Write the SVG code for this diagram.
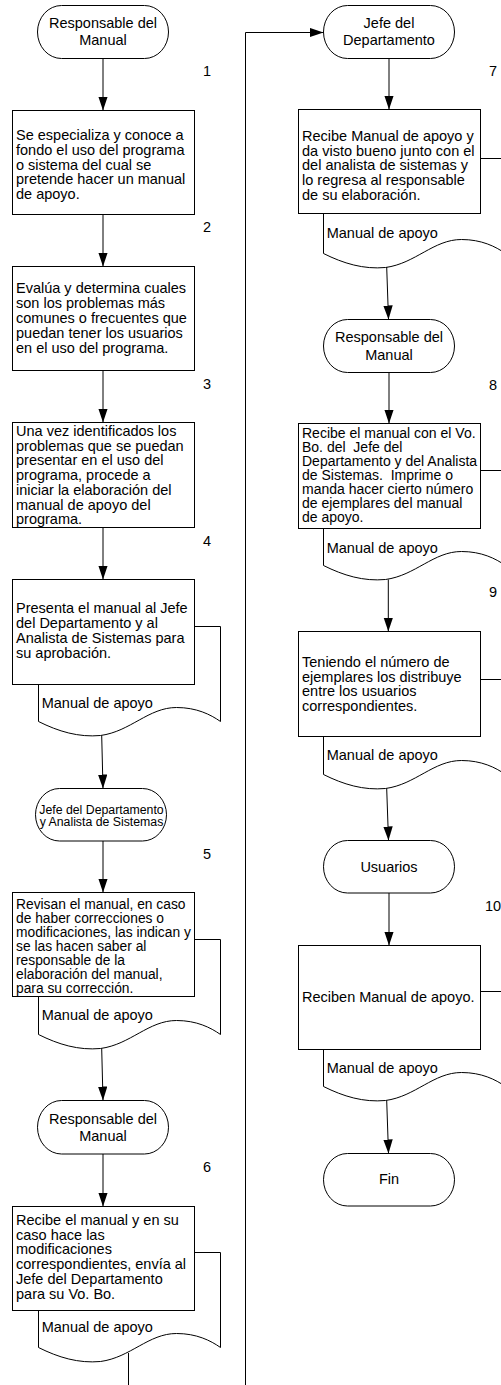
<svg xmlns="http://www.w3.org/2000/svg" xmlns:xlink="http://www.w3.org/1999/xlink" width="501" height="1385" viewBox="0 0 501 1385">
  <style>
    .box { fill: #ffffff; stroke: #000000; stroke-width: 1; }
    .doc { fill: #ffffff; stroke: #000000; stroke-width: 1; }
    .term { fill: #ffffff; stroke: #000000; stroke-width: 1; }
    .conn { fill: none; stroke: #000000; stroke-width: 1; marker-end: url(#arrow); }
    .conn-plain { fill: none; stroke: #000000; stroke-width: 1; }
    text { font-family: "Liberation Sans", Arial, sans-serif; font-size: 14.5px; fill: #000000; }
    .c { text-anchor: middle; }
    .small { font-size: 12.3px; }
    .dense { font-size: 13.8px; }
    .mid { font-size: 14px; }
  </style>
  <defs>
    <marker id="arrow" markerUnits="userSpaceOnUse" markerWidth="14" markerHeight="10" refX="14" refY="4.7" orient="auto">
      <path d="M0,0 L14,4.7 L0,9.4 Z" fill="#000000"/>
    </marker>
    <!-- document sheet with wavy lower edge, 182 wide -->
    <path id="docShape" d="M0,0 H182 V95 C172,88 158,81 138,81 C110,81 92,105 62,109 C40,111 20,105 0,95 Z"/>
  </defs>
  <rect x="0" y="0" width="501" height="1385" fill="#ffffff"/>

  <!-- left column -->
  <g id="start-responsable">
    <rect class="term" x="37.5" y="5.5" width="131" height="53" rx="24" ry="26.5"/>
    <text class="c" x="103" y="27.8">Responsable del</text>
    <text class="c" x="103" y="45.2">Manual</text>
  </g>
  <g id="step1">
    <text class="c" x="207" y="76.2">1</text>
    <rect class="box" x="12.5" y="110.5" width="182" height="104"/>
    <text x="16" y="140">Se especializa y conoce a</text>
    <text x="16" y="154.8">fondo el uso del programa</text>
    <text x="16" y="169.6">o sistema del cual se</text>
    <text x="16" y="184.4">pretende hacer un manual</text>
    <text x="16" y="199.2">de apoyo.</text>
  </g>
  <g id="step2">
    <text class="c" x="207" y="232.2">2</text>
    <rect class="box" x="12.5" y="266.5" width="182" height="104"/>
    <text x="16" y="293.3">Evalúa y determina cuales</text>
    <text x="16" y="308.1">son los problemas más</text>
    <text x="16" y="322.9">comunes o frecuentes que</text>
    <text x="16" y="337.7">puedan tener los usuarios</text>
    <text x="16" y="352.5">en el uso del programa.</text>
  </g>
  <g id="step3">
    <text class="c" x="207" y="389.2">3</text>
    <rect class="box" x="12.5" y="422.5" width="182" height="105"/>
    <text x="16" y="435.7">Una vez identificados los</text>
    <text x="16" y="450.5">problemas que se puedan</text>
    <text x="16" y="465.2">presentar en el uso del</text>
    <text x="16" y="480">programa, procede a</text>
    <text x="16" y="494.8">iniciar la elaboración del</text>
    <text x="16" y="509.6">manual de apoyo del</text>
    <text x="16" y="524.3">programa.</text>
  </g>
  <g id="step4">
    <text class="c" x="207" y="546.2">4</text>
    <use href="#docShape" xlink:href="#docShape" class="doc" x="38.5" y="626.5"/>
    <rect class="box" x="12.5" y="579.5" width="182" height="105"/>
    <text x="16" y="613.3">Presenta el manual al Jefe</text>
    <text x="16" y="628.1">del Departamento y al</text>
    <text x="16" y="642.9">Analista de Sistemas para</text>
    <text x="16" y="657.7">su aprobación.</text>
    <text x="41.7" y="707.7">Manual de apoyo</text>
  </g>
  <g id="actor-jefe-analista">
    <rect class="term" x="35.5" y="788.5" width="131" height="52.5" rx="24" ry="26.25"/>
    <text class="c small" x="101.5" y="813.7">Jefe del Departamento</text>
    <text class="c small" x="101.5" y="826.1">y Analista de Sistemas</text>
  </g>
  <g id="step5">
    <text class="c" x="207" y="859.2">5</text>
    <use href="#docShape" xlink:href="#docShape" class="doc" x="38.5" y="939.5"/>
    <rect class="box" x="12.5" y="892.5" width="182" height="104"/>
    <text class="dense" x="16" y="908.5">Revisan el manual, en caso</text>
    <text class="dense" x="16" y="922.5">de haber correcciones o</text>
    <text class="dense" x="16" y="936.5">modificaciones, las indican y</text>
    <text class="dense" x="16" y="950.5">se las hacen saber al</text>
    <text class="dense" x="16" y="964.5">responsable de la</text>
    <text class="dense" x="16" y="978.5">elaboración del manual,</text>
    <text class="dense" x="16" y="992.5">para su corrección.</text>
    <text x="41.7" y="1020">Manual de apoyo</text>
  </g>
  <g id="actor-responsable-2">
    <rect class="term" x="37.5" y="1100.5" width="131" height="53.5" rx="24" ry="26.75"/>
    <text class="c" x="103" y="1123.6">Responsable del</text>
    <text class="c" x="103" y="1141">Manual</text>
  </g>
  <g id="step6">
    <text class="c" x="207" y="1171.9">6</text>
    <use href="#docShape" xlink:href="#docShape" class="doc" x="38.5" y="1252.5"/>
    <rect class="box" x="12.5" y="1206.5" width="182" height="104"/>
    <text x="16" y="1225">Recibe el manual y en su</text>
    <text x="16" y="1239.7">caso hace las</text>
    <text x="16" y="1254.4">modificaciones</text>
    <text x="16" y="1269.1">correspondientes, envía al</text>
    <text x="16" y="1283.8">Jefe del Departamento</text>
    <text x="16" y="1298.5">para su Vo. Bo.</text>
    <text x="41.7" y="1331.7">Manual de apoyo</text>
  </g>

  <!-- right column -->
  <g id="actor-jefe">
    <rect class="term" x="323.5" y="5.5" width="131" height="53" rx="24" ry="26.5"/>
    <text class="c" x="389" y="27.8">Jefe del</text>
    <text class="c" x="389" y="45.2">Departamento</text>
  </g>
  <g id="step7">
    <text class="c" x="493" y="75.9">7</text>
    <use href="#docShape" xlink:href="#docShape" class="doc" x="323.5" y="158.5"/>
    <rect class="box" x="298.5" y="109.5" width="182" height="104"/>
    <text x="302" y="141">Recibe Manual de apoyo y</text>
    <text x="302" y="155.7">da visto bueno junto con el</text>
    <text x="302" y="170.4">del analista de sistemas y</text>
    <text x="302" y="185.1">lo regresa al responsable</text>
    <text x="302" y="199.8">de su elaboración.</text>
    <text x="326.7" y="238.3">Manual de apoyo</text>
  </g>
  <g id="actor-responsable-3">
    <rect class="term" x="323.5" y="319.5" width="131" height="53" rx="24" ry="26.5"/>
    <text class="c" x="389" y="342.3">Responsable del</text>
    <text class="c" x="389" y="359.7">Manual</text>
  </g>
  <g id="step8">
    <text class="c" x="493" y="390.2">8</text>
    <use href="#docShape" xlink:href="#docShape" class="doc" x="323.5" y="470.5"/>
    <rect class="box" x="298.5" y="423.5" width="182" height="105"/>
    <text class="mid" x="302" y="438.3">Recibe el manual con el Vo.</text>
    <text class="mid" x="302" y="452.3" xml:space="preserve">Bo. del  Jefe del</text>
    <text class="mid" x="302" y="466.3">Departamento y del Analista</text>
    <text class="mid" x="302" y="480.3" xml:space="preserve">de Sistemas.  Imprime o</text>
    <text class="mid" x="302" y="494.3">manda hacer cierto número</text>
    <text class="mid" x="302" y="508.3">de ejemplares del manual</text>
    <text class="mid" x="302" y="522.3">de apoyo.</text>
    <text x="326.7" y="553.3">Manual de apoyo</text>
  </g>
  <g id="step9">
    <text class="c" x="493" y="596.9">9</text>
    <use href="#docShape" xlink:href="#docShape" class="doc" x="323.5" y="679.5"/>
    <rect class="box" x="298.5" y="631.5" width="182" height="105"/>
    <text x="302" y="666.7">Teniendo el número de</text>
    <text x="302" y="681.5">ejemplares los distribuye</text>
    <text x="302" y="696.3">entre los usuarios</text>
    <text x="302" y="711">correspondientes.</text>
    <text x="326.7" y="760">Manual de apoyo</text>
  </g>
  <g id="actor-usuarios">
    <rect class="term" x="323.5" y="840.5" width="131" height="52.5" rx="24" ry="26.25"/>
    <text class="c" x="389" y="871.7">Usuarios</text>
  </g>
  <g id="step10">
    <text class="c" x="493" y="910.9">10</text>
    <use href="#docShape" xlink:href="#docShape" class="doc" x="323.5" y="991.5"/>
    <rect class="box" x="298.5" y="945.5" width="182" height="104"/>
    <text x="302" y="1001.7">Reciben Manual de apoyo.</text>
    <text x="326.7" y="1073.3">Manual de apoyo</text>
  </g>
  <g id="end-fin">
    <rect class="term" x="323.5" y="1153.5" width="131" height="52.5" rx="24" ry="26.25"/>
    <text class="c" x="389" y="1184.3">Fin</text>
  </g>

  <!-- flow lines -->
  <g id="connectors">
    <path class="conn" d="M103,58.5 V110.5"/>
    <path class="conn" d="M103,214.5 V266.5"/>
    <path class="conn" d="M103,370.5 V422.5"/>
    <path class="conn" d="M103,527.5 V579.5"/>
    <path class="conn" d="M101.7,735.5 L103,788.5"/>
    <path class="conn" d="M103,841 V892.5"/>
    <path class="conn" d="M101.7,1048.5 L103,1100.5"/>
    <path class="conn" d="M103,1154 V1206.5"/>
    <path class="conn" d="M128.5,1353 V1400 H245.5 V32.5 H323.5"/>
    <path class="conn" d="M389,58.5 V109.5"/>
    <path class="conn" d="M386.7,267 L388.5,319.5"/>
    <path class="conn" d="M389,372.5 V423.5"/>
    <path class="conn" d="M388.3,579.5 V631.5"/>
    <path class="conn" d="M386.7,788.5 L388.5,840.5"/>
    <path class="conn" d="M389,893 V945.5"/>
    <path class="conn" d="M386.7,1100.5 L388.5,1153.5"/>
  </g>
</svg>
